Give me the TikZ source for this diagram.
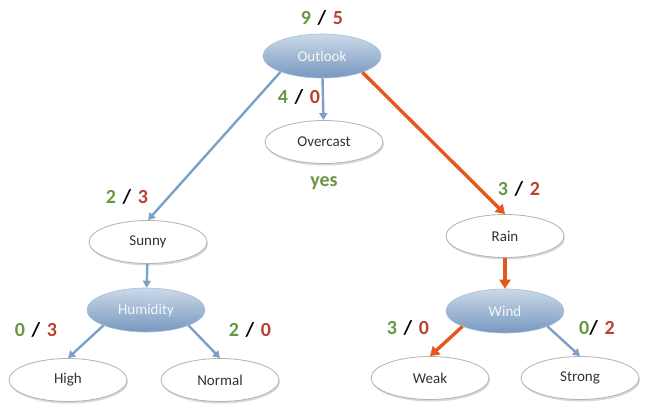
\documentclass[tikz,border=0pt]{standalone}
\usepackage{fontspec}
\setmainfont{Carlito}
\usetikzlibrary{shapes.geometric,shadows,arrows.meta}
\definecolor{edgeblue}{RGB}{125,160,200}
\definecolor{edgeorange}{RGB}{228,88,30}
\definecolor{yesgreen}{RGB}{105,150,65}
\definecolor{nored}{RGB}{185,65,45}
\newcommand{\cnt}[2]{\textcolor{yesgreen}{#1}\,\,/\,\,\textcolor{nored}{#2}}

\begin{document}
\begin{tikzpicture}[x=1pt,y=-1pt,
  leaf/.style={ellipse,draw=black!30,line width=0.8pt,fill=white,minimum width=118pt,minimum height=43pt,
    font=\fontsize{15}{17}\selectfont,text=black!80,drop shadow={opacity=0.3,shadow xshift=1pt,shadow yshift=-2pt}},
  attr/.style={ellipse,draw=edgeblue!70,line width=0.6pt,top color=edgeblue!40,bottom color=edgeblue!95!black,
    minimum width=118pt,minimum height=44pt,font=\fontsize{15}{17}\selectfont,text=white!90!edgeblue},
  count/.style={font=\bfseries\fontsize{20}{22}\selectfont},
  cold/.style={draw=edgeblue,line width=2.4pt,-{Triangle[length=7pt,width=8pt]}},
  hot/.style={draw=edgeorange,line width=3.4pt,-{Triangle[length=9pt,width=11pt]}}]
\useasboundingbox (0,0) rectangle (647,410);
% tree
\node[attr] (outlook) at (322,56) {Outlook};
\node[leaf] (overcast) at (324,142) {Overcast};
\node[leaf] (sunny) at (148,242) {Sunny};
\node[leaf] (rain) at (505,236) {Rain};
\node[attr] (humidity) at (146,310) {Humidity};
\node[attr] (wind) at (505,311) {Wind};
\node[leaf] (high) at (68,380) {High};
\node[leaf] (normal) at (220,380) {Normal};
\node[leaf] (weak) at (430,378) {Weak};
\node[leaf] (strong) at (580,378) {Strong};
% counts
\node[count] (c_outlook) at (322,18) {\cnt{9}{5}};
\node[count] (c_overcast) at (299,97) {\cnt{4}{0}};
\node[count,text=yesgreen] (yes) at (324,183) {yes};
\node[count] (c_sunny) at (127,197) {\cnt{2}{3}};
\node[count] (c_rain) at (519,189) {\cnt{3}{2}};
\node[count] (c_high) at (36,330) {\cnt{0}{3}};
\node[count] (c_normal) at (250,330) {\cnt{2}{0}};
\node[count] (c_weak) at (408,328) {\cnt{3}{0}};
\node[count] (c_strong) at (597,328) {\textcolor{yesgreen}{0}/\,\,\textcolor{nored}{2}};
% edges
\draw[cold] (outlook) -- (overcast);
\draw[cold] (outlook.201) -- (sunny.north);
\draw[hot] (outlook.-22) -- (rain.north);
\draw[cold] (sunny) -- (humidity);
\draw[hot] (rain) -- (wind);
\draw[cold] (humidity.200) -- (high.north);
\draw[cold] (humidity.-20) -- (normal.north);
\draw[hot] (wind.200) -- (weak.north);
\draw[cold] (wind.-20) -- (strong.north);
\end{tikzpicture}
\end{document}
